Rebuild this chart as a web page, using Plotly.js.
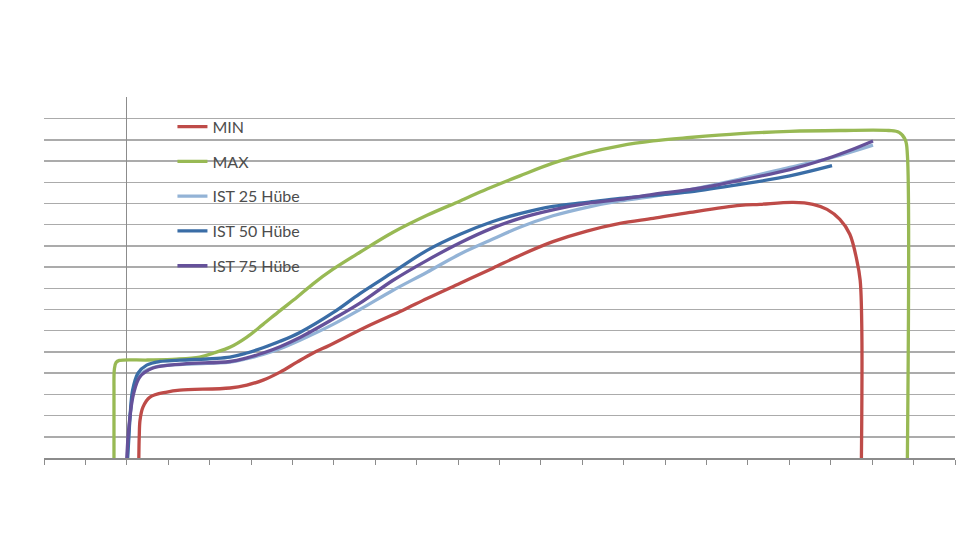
<!DOCTYPE html>
<html>
<head>
<meta charset="utf-8">
<script src="https://cdn.plot.ly/plotly-3.0.1.min.js"></script>
<style>
  html, body { margin: 0; padding: 0; background: #fff; }
  #chart { width: 960px; height: 540px; }
</style>
</head>
<body>
<div id="chart"></div>
<script>
// Werte (x: Weg, y: Kraft, Achsen ohne Beschriftung)
const minX = [0.29, 0.30, 0.32, 0.39, 0.56, 0.97, 1.28, 2.49, 2.90, 3.29, 3.70, 4.11, 4.49, 4.90, 5.80, 6.67, 7.25, 8.05, 8.84, 9.49, 10.29, 11.11, 11.91, 12.71, 13.60, 14.81, 15.29, 16.09, 16.57, 16.91, 17.22, 17.46, 17.63, 17.71, 17.75, 17.74];
const minY = [0.00, 1.00, 1.80, 2.40, 2.87, 3.11, 3.20, 3.30, 3.44, 3.67, 4.05, 4.52, 4.94, 5.32, 6.20, 6.97, 7.52, 8.24, 8.95, 9.55, 10.20, 10.70, 11.06, 11.30, 11.58, 11.91, 11.96, 12.05, 11.96, 11.72, 11.25, 10.55, 9.32, 8.38, 6.00, 0.00];

const maxX = [-0.31, -0.31, -0.30, -0.26, -0.18, 0.50, 1.20, 1.76, 2.10, 2.50, 2.90, 3.29, 3.70, 4.11, 4.49, 4.98, 5.63, 6.43, 7.25, 8.05, 8.70, 9.49, 10.29, 11.11, 11.91, 12.71, 13.60, 14.81, 16.01, 17.22, 18.40, 18.65, 18.80, 18.85, 18.85];
const maxY = [0.00, 3.00, 4.20, 4.50, 4.60, 4.62, 4.66, 4.76, 4.95, 5.23, 5.70, 6.30, 6.95, 7.58, 8.20, 8.90, 9.70, 10.64, 11.44, 12.12, 12.68, 13.30, 13.90, 14.38, 14.72, 14.95, 15.11, 15.29, 15.40, 15.44, 15.44, 15.35, 15.00, 14.30, 0.00];

const ist25X = [0.01, 0.05, 0.10, 0.20, 0.40, 0.70, 1.35, 2.49, 2.90, 3.29, 3.70, 4.18, 4.98, 5.63, 6.43, 7.25, 8.05, 8.84, 9.49, 10.29, 11.11, 11.91, 12.71, 13.60, 14.81, 16.01, 17.05, 18.02];
const ist25Y = [0.00, 1.20, 2.40, 3.50, 4.05, 4.30, 4.42, 4.52, 4.68, 4.88, 5.15, 5.55, 6.30, 7.00, 7.91, 8.76, 9.62, 10.32, 10.88, 11.42, 11.82, 12.12, 12.34, 12.65, 13.15, 13.70, 14.18, 14.75];

const ist50X = [0.02, 0.05, 0.08, 0.14, 0.27, 0.48, 0.80, 1.28, 2.49, 2.90, 3.29, 3.70, 4.18, 4.98, 5.63, 6.43, 7.25, 8.05, 8.84, 9.49, 10.29, 11.11, 11.91, 12.71, 13.60, 14.81, 16.01, 17.03];
const ist50Y = [0.00, 1.00, 2.00, 3.20, 4.00, 4.38, 4.55, 4.61, 4.76, 4.95, 5.20, 5.50, 5.92, 6.85, 7.75, 8.76, 9.79, 10.55, 11.15, 11.52, 11.86, 12.05, 12.24, 12.38, 12.55, 12.90, 13.30, 13.78];

const ist75X = [0.00, 0.03, 0.08, 0.16, 0.31, 0.63, 1.35, 2.49, 2.90, 3.29, 3.70, 4.18, 4.98, 5.63, 6.43, 7.25, 8.05, 8.84, 9.49, 10.29, 11.11, 11.91, 12.71, 13.60, 14.81, 16.01, 16.81, 17.39, 18.02];
const ist75Y = [0.00, 1.00, 2.00, 3.00, 3.81, 4.24, 4.43, 4.55, 4.72, 4.95, 5.25, 5.68, 6.55, 7.30, 8.38, 9.32, 10.15, 10.85, 11.30, 11.70, 12.00, 12.19, 12.43, 12.65, 13.09, 13.60, 14.05, 14.45, 14.95];

const seriesNames = ['MIN', 'MAX', 'IST 25 Hübe', 'IST 50 Hübe', 'IST 75 Hübe'];
const seriesColors = ['#BE4B48', '#98B954', '#93B3D6', '#3A6DA6', '#65519A'];

const xs = [minX, maxX, ist25X, ist50X, ist75X];
const ys = [minY, maxY, ist25Y, ist50Y, ist75Y];

let data = [];
for (let i = 0; i < seriesNames.length; i++)
{
  data.push({
    name: seriesNames[i],
    x: xs[i],
    y: ys[i],
    type: 'scatter',
    mode: 'lines',
    legendgroup: 'g' + i,
    line: { color: seriesColors[i], width: 3.3, shape: 'spline', smoothing: 1 }
  });
}

let layout =
{
  width: 960,
  height: 540,
  margin: { l: 44, r: 5, t: 97, b: 82 },
  paper_bgcolor: '#ffffff',
  plot_bgcolor: '#ffffff',
  font: { family: 'Lato, "Open Sans", sans-serif', size: 16, color: '#4d4d4d' },
  showlegend: true,
  legend:
  {
    x: 0.141,
    y: 0.965,
    xanchor: 'left',
    yanchor: 'top',
    bgcolor: 'rgba(0,0,0,0)',
    tracegroupgap: 11,
    font: { size: 16, color: '#4d4d4d' }
  },
  xaxis:
  {
    range: [-2, 20],
    autorange: false,
    dtick: 1,
    tick0: 0,
    ticks: 'outside',
    ticklen: 5,
    tickcolor: '#8c8c8c',
    showticklabels: false,
    showgrid: false,
    zeroline: true,
    zerolinecolor: '#8c8c8c',
    zerolinewidth: 1,
    showline: true,
    linecolor: '#8c8c8c',
    linewidth: 1.5
  },
  yaxis:
  {
    range: [0, 17.02],
    autorange: false,
    dtick: 1,
    tick0: 0,
    ticks: '',
    showticklabels: false,
    showgrid: true,
    gridcolor: '#ababab',
    gridwidth: 1.5,
    zeroline: false,
    showline: false
  },
  hovermode: false
};

Plotly.newPlot('chart', data, layout, { staticPlot: true });
</script>
</body>
</html>
